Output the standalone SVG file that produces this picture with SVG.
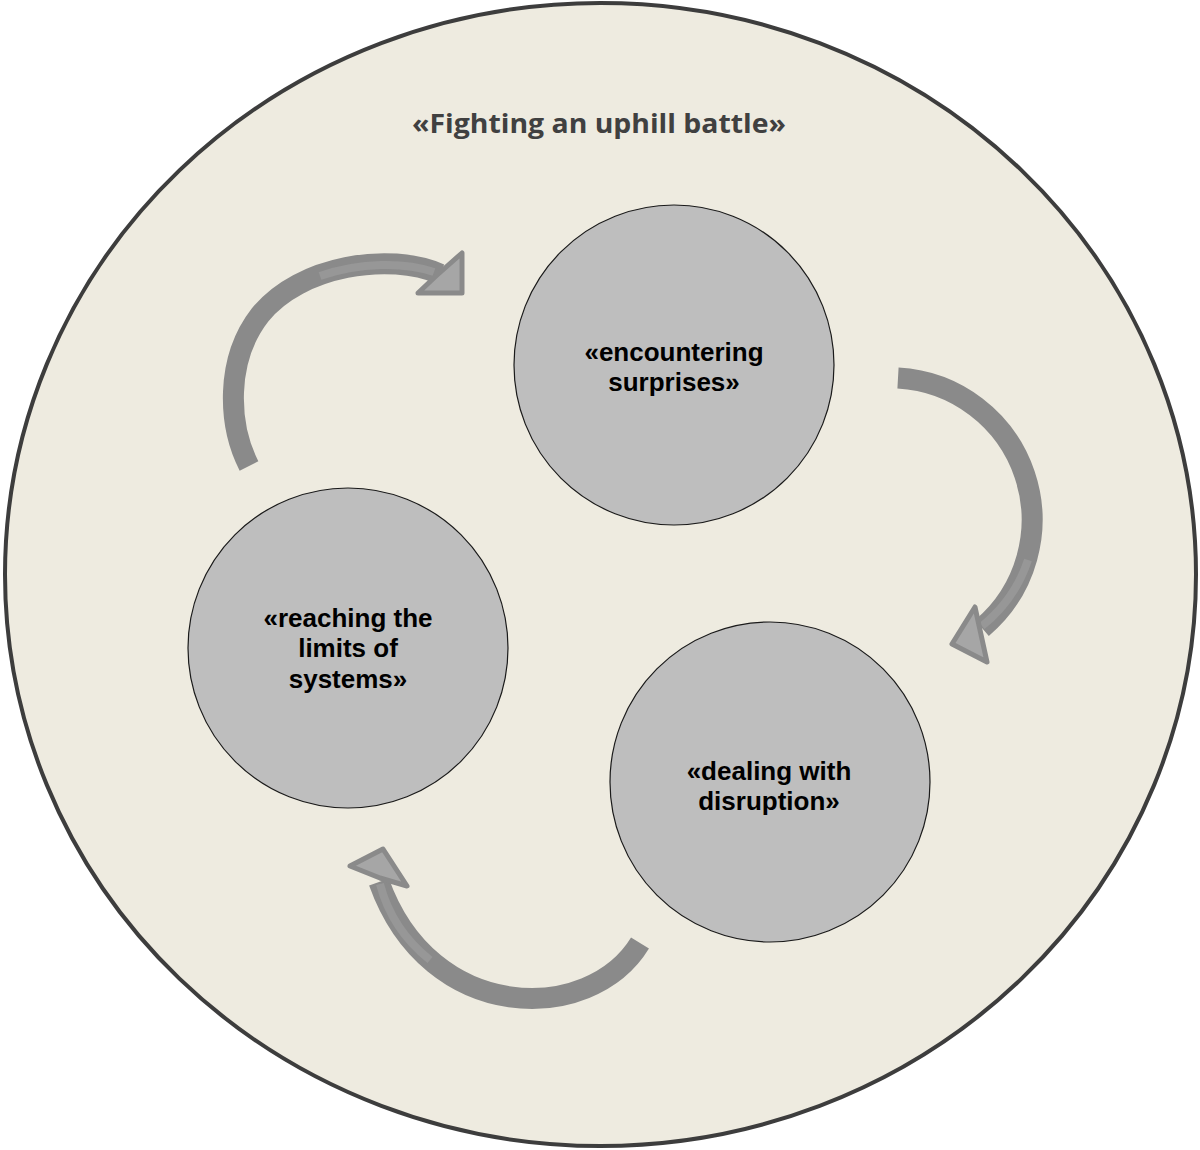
<svg xmlns="http://www.w3.org/2000/svg" width="1200" height="1150" viewBox="0 0 1200 1150">
<style>
.node{fill:#bebebe;stroke:#1a1a1a;stroke-width:1.2}
.lbl{font-family:"Liberation Sans",Arial,sans-serif;font-weight:bold;font-size:26px;fill:#000;text-anchor:middle}
.title{font-family:"Open Sans","Liberation Sans",sans-serif;font-weight:bold;font-size:27px;fill:#404040;text-anchor:middle}
.shaft{fill:none;stroke:#8a8a8a;stroke-width:21;stroke-linecap:butt}
.shaftin{fill:none;stroke:#979797;stroke-width:8}
.head{fill:#a6a6a6;stroke:#8a8a8a;stroke-width:5;stroke-linejoin:round}
</style>
<rect width="1200" height="1150" fill="#ffffff"/>
<g id="frame">
<ellipse cx="600.5" cy="574.5" rx="595.5" ry="571.5" fill="#eeebe0" stroke="#3d3d3d" stroke-width="4"/>
<text class="title" x="599" y="133" textLength="374" lengthAdjust="spacingAndGlyphs">«Fighting an uphill battle»</text>
</g>
<g id="connectors">
<g id="arrow1">
<path class="shaft" d="M249,466 C228,425 225,360 260,315 C300,265 390,252 440,274"/>
<path class="shaftin" d="M320,276 C360,262 405,262 434,272"/>
<polygon class="head" points="462,253 462,293 418,293 436,276"/>
</g>
<g id="arrow2">
<path class="shaft" d="M898,378 A142,142 0 0 1 982,628"/>
<path class="shaftin" d="M1028,560 A142,142 0 0 1 982,626"/>
<polygon class="head" points="975,607 980,630 987,662 952,644"/>
</g>
<g id="arrow3">
<path class="shaft" d="M640,943 C590,1025 430,1025 379,882"/>
<path class="shaftin" d="M430,960 C405,940 388,915 380,884"/>
<polygon class="head" points="350,866 383,849 407,886 380,878"/>
</g>
</g>
<g id="node-encountering">
<circle class="node" cx="674" cy="365" r="160"/>
<text class="lbl" x="674" y="361">«encountering</text>
<text class="lbl" x="674" y="391">surprises»</text>
</g>
<g id="node-reaching">
<circle class="node" cx="348" cy="648" r="160"/>
<text class="lbl" x="348" y="627">«reaching the</text>
<text class="lbl" x="348" y="657">limits of</text>
<text class="lbl" x="348" y="688">systems»</text>
</g>
<g id="node-dealing">
<circle class="node" cx="770" cy="782" r="160"/>
<text class="lbl" x="769" y="780">«dealing with</text>
<text class="lbl" x="769" y="810">disruption»</text>
</g>
</svg>
